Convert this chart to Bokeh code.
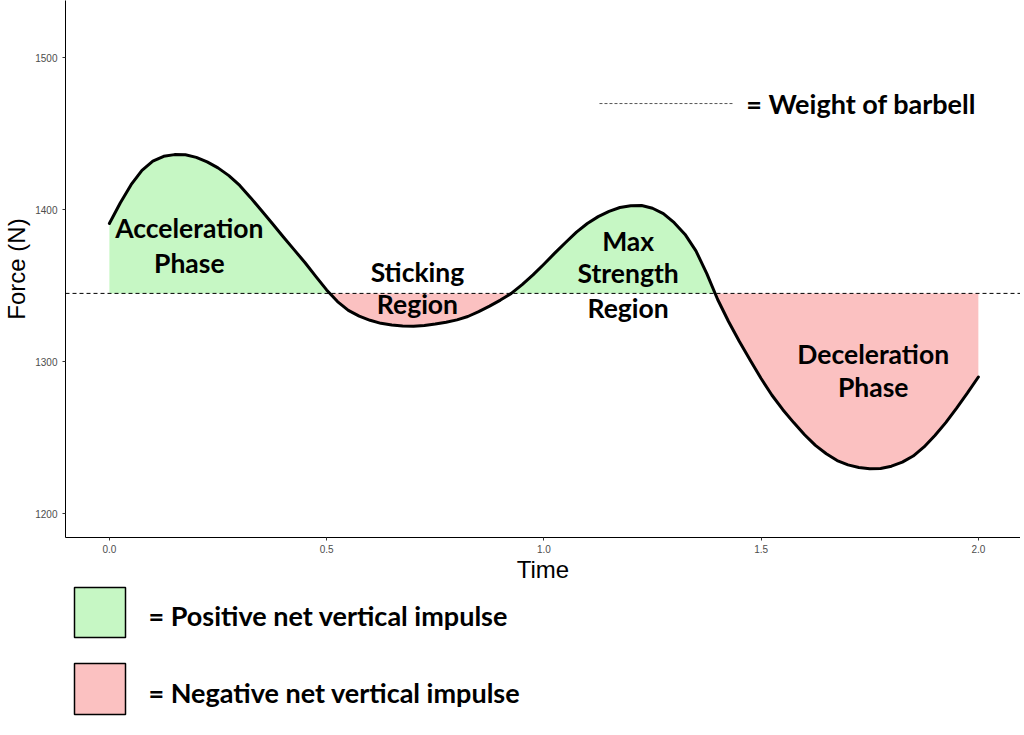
import numpy as np
from bokeh.plotting import figure
from bokeh.models import Range1d, Span, FixedTicker
from bokeh.layouts import column
from bokeh.embed import file_html
from bokeh.resources import INLINE
from bokeh.core.properties import value

# ---- data ----
time = [0.000, 0.025, 0.050, 0.075, 0.100, 0.125, 0.150, 0.175, 0.200, 0.225,
        0.250, 0.275, 0.300, 0.325, 0.350, 0.375, 0.400, 0.425, 0.450, 0.475,
        0.500, 0.525, 0.550, 0.575, 0.600, 0.625, 0.650, 0.675, 0.700, 0.725,
        0.750, 0.775, 0.800, 0.825, 0.850, 0.875, 0.900, 0.925, 0.950, 0.975,
        1.000, 1.025, 1.050, 1.075, 1.100, 1.125, 1.150, 1.175, 1.200, 1.225,
        1.250, 1.275, 1.300, 1.325, 1.350, 1.375, 1.400, 1.425, 1.450, 1.475,
        1.500, 1.525, 1.550, 1.575, 1.600, 1.625, 1.650, 1.675, 1.700, 1.725,
        1.750, 1.775, 1.800, 1.825, 1.850, 1.875, 1.900, 1.925, 1.950, 1.975,
        2.000]
force = [1391.0, 1404.5, 1416.5, 1426.0, 1432.0, 1435.2, 1436.3, 1436.2, 1434.5, 1431.5,
         1427.6, 1422.5, 1416.0, 1408.0, 1399.5, 1391.0, 1382.3, 1373.8, 1365.3, 1356.2,
         1347.3, 1339.6, 1333.8, 1330.0, 1327.3, 1325.3, 1324.2, 1323.6, 1323.4, 1323.9,
         1324.8, 1326.0, 1327.6, 1329.8, 1333.0, 1336.6, 1340.6, 1345.0, 1350.8, 1357.2,
         1364.2, 1371.5, 1378.5, 1385.3, 1391.0, 1395.5, 1399.0, 1401.5, 1402.7, 1402.8,
         1401.0, 1397.5, 1391.5, 1383.8, 1373.0, 1358.0, 1341.0, 1326.5, 1313.3, 1301.0,
         1289.0, 1278.0, 1268.5, 1260.0, 1252.0, 1245.0, 1239.5, 1235.0, 1232.2, 1230.5,
         1229.7, 1229.8, 1231.3, 1234.0, 1238.0, 1244.0, 1251.5, 1260.0, 1269.5, 1279.5,
         1290.0]
weight = 1345.0
x_ticks = [0.0, 0.5, 1.0, 1.5, 2.0]
y_ticks = [1200, 1300, 1400, 1500]
x_tick_labels = {0.0: "0.0", 0.5: "0.5", 1.0: "1.0", 1.5: "1.5", 2.0: "2.0"}
phase_lines = ["Acceleration", "Phase", "Sticking", "Region", "Max", "Strength", "Region",
               "Deceleration", "Phase"]
weight_label = "= Weight of barbell"
legend_labels = ["= Positive net vertical impulse", "= Negative net vertical impulse"]

# ---- styles ----
GREEN = "#C6F7C4"
RED = "#FBC1C1"
BOLD_FONT = "Lato"
AXIS_FONT = "Liberation Sans"

W = 1020
H1 = 585
H2 = 148

p = figure(width=W, height=H1, output_backend="svg", toolbar_location=None,
           x_range=Range1d(-0.101, 2.097), y_range=Range1d(1184.4, 1537.7),
           min_border_left=65, min_border_right=0, min_border_top=0, min_border_bottom=48)
p.outline_line_color = None
p.grid.visible = False
p.background_fill_color = "white"
p.border_fill_color = "white"

# fill areas with crossing points inserted
t = np.array(time, dtype=float)
f = np.array(force, dtype=float)
xs = [t[0]]
ys = [f[0]]
for i in range(1, len(t)):
    a = f[i - 1] - weight
    b = f[i] - weight
    if a * b < 0:
        xs.append(t[i - 1] + (t[i] - t[i - 1]) * a / (a - b))
        ys.append(weight)
    xs.append(t[i])
    ys.append(f[i])
xs = np.array(xs)
ys = np.array(ys)
p.varea(x=xs, y1=np.maximum(ys, weight), y2=weight, fill_color=GREEN)
p.varea(x=xs, y1=np.minimum(ys, weight), y2=weight, fill_color=RED)

p.add_layout(Span(location=weight, dimension="width", line_color="black",
                  line_width=1, line_dash="4 3"))

p.line(x=t, y=f, line_color="black", line_width=3, line_join="round", line_cap="round")

# phase annotations
px = [0.184, 0.184, 0.709, 0.709, 1.194, 1.194, 1.194, 1.758, 1.758]
py = [1387.7, 1365.3, 1359.4, 1337.7, 1379.8, 1358.1, 1335.7, 1304.8, 1283.1]
p.text(x=px, y=py, text=phase_lines, text_align="center", text_baseline="middle",
       text_font=value(BOLD_FONT), text_font_style="bold", text_font_size="26.5px",
       text_color="black")

# weight legend
p.segment(x0=[1.128], y0=[1469.9], x1=[1.436], y1=[1469.9], line_color="#555555",
          line_width=1, line_dash="3 2")
p.text(x=[1.466], y=[1469.9], text=[weight_label], text_align="left", text_baseline="middle",
       text_font=value(BOLD_FONT), text_font_style="bold", text_font_size="27px",
       text_color="black")

# axes
p.xaxis.ticker = FixedTicker(ticks=x_ticks)
p.xaxis.major_label_overrides = x_tick_labels
p.yaxis.ticker = FixedTicker(ticks=y_ticks)
for ax in (p.xaxis, p.yaxis):
    ax.axis_line_color = "black"
    ax.axis_line_width = 1
    ax.major_tick_line_color = "#333333"
    ax.major_tick_in = 0
    ax.major_tick_out = 3
    ax.minor_tick_line_color = None
    ax.major_label_text_font = AXIS_FONT
    ax.major_label_text_font_size = "10px"
    ax.major_label_text_color = "#4D4D4D"
    ax.axis_label_text_font = AXIS_FONT
    ax.axis_label_text_font_size = "24px"
    ax.axis_label_text_font_style = "normal"
    ax.axis_label_text_color = "black"
p.xaxis.axis_label = "Time"
p.yaxis.axis_label = "Force (N)"
p.xaxis.major_label_standoff = 4
p.yaxis.major_label_standoff = 5
p.xaxis.axis_label_standoff = 0
p.yaxis.axis_label_standoff = 2

# ---- legend panel (frame aligned with the plot above; coordinates in page pixels) ----
q = figure(width=W, height=H2, output_backend="svg", toolbar_location=None,
           x_range=Range1d(65, W), y_range=Range1d(H1 + H2, H1),
           x_axis_location=None, y_axis_location=None,
           min_border_left=65, min_border_right=0,
           min_border_top=0, min_border_bottom=0)
q.outline_line_color = None
q.grid.visible = False
q.background_fill_color = "white"
q.border_fill_color = "white"
q.quad(left=[74, 74], right=[125, 125], top=[587, 663], bottom=[637, 714],
       fill_color=[GREEN, RED], line_color="black", line_width=1.5)
q.text(x=[148, 148], y=[615, 692], text=legend_labels, text_align="left",
       text_baseline="middle", text_font=value(BOLD_FONT), text_font_style="bold",
       text_font_size="27px", text_color="black")

layout = column(p, q, spacing=0)
open("out.html", "w").write(file_html(layout, INLINE))
